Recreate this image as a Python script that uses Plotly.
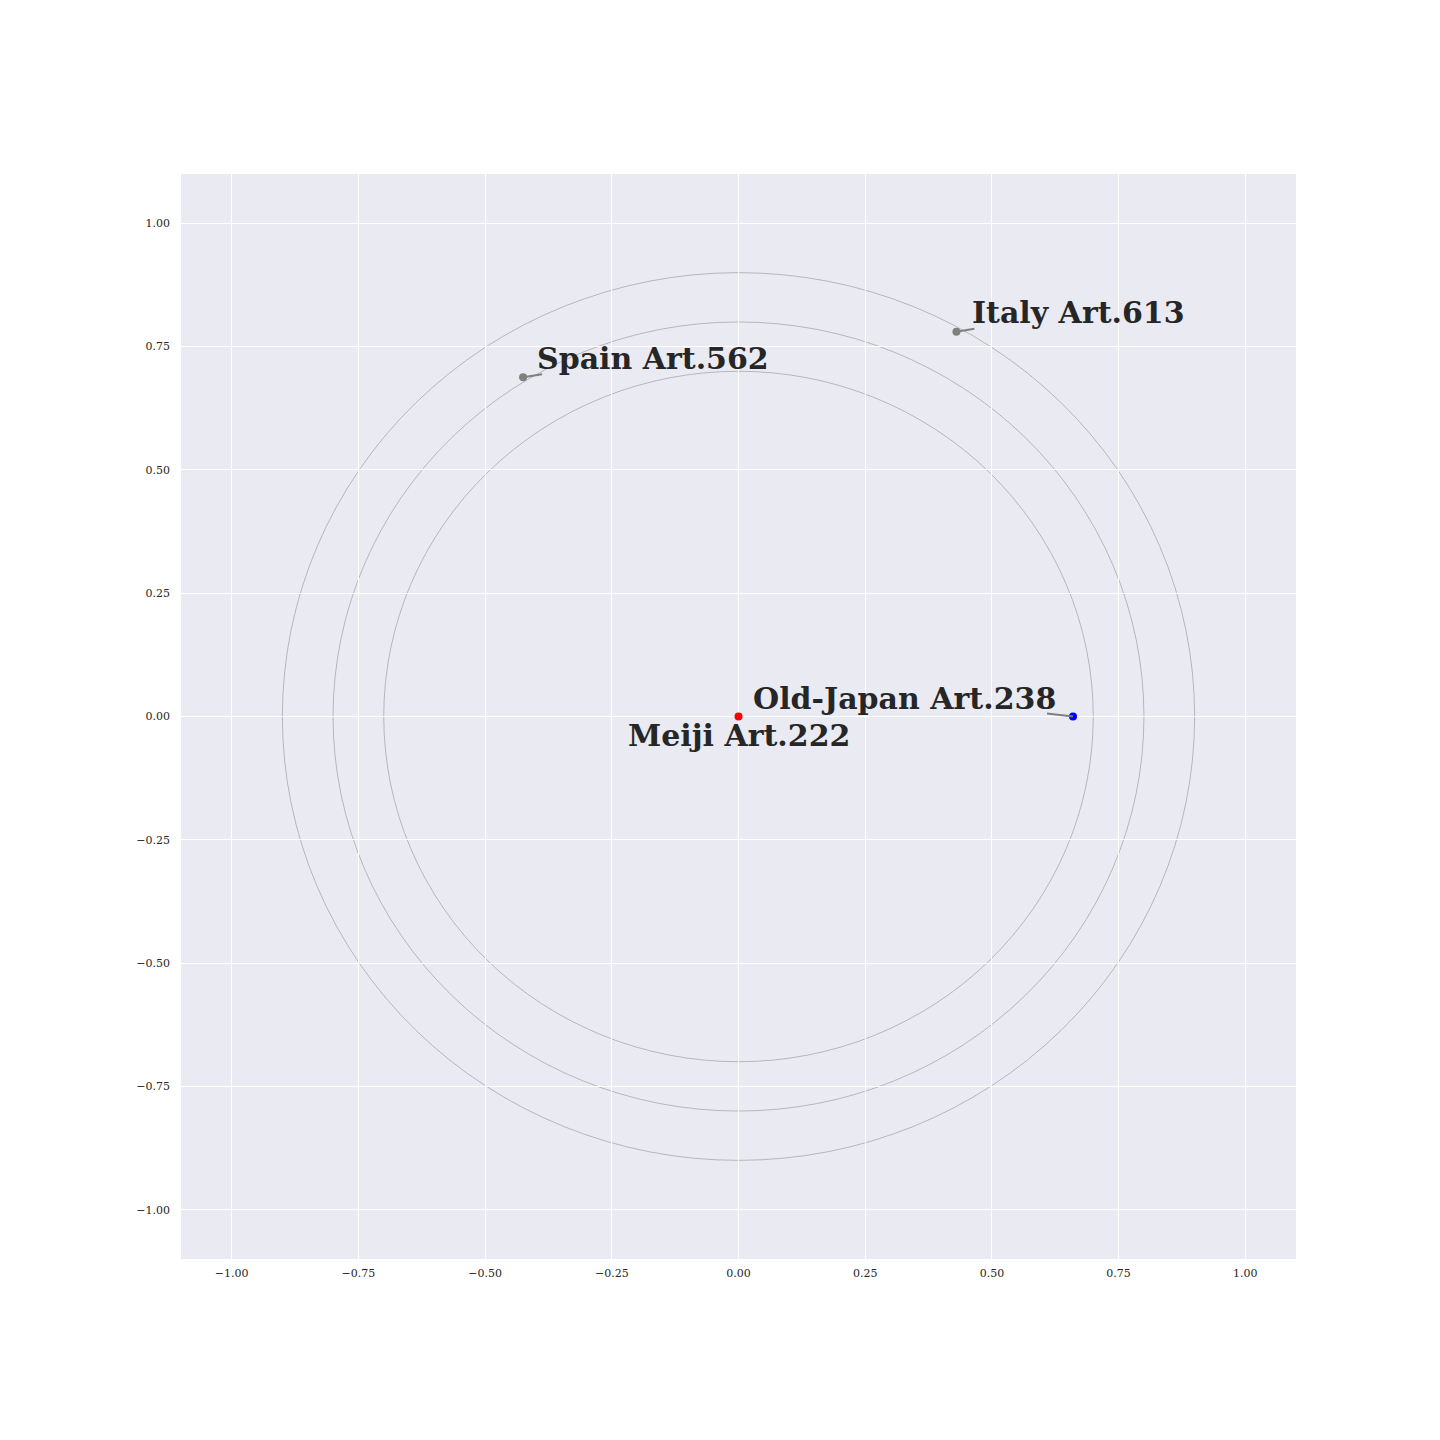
import plotly.graph_objects as go

names = ["Meiji Art.222", "Old-Japan Art.238", "Spain Art.562", "Italy Art.613"]
xs = [0.0, 0.66, -0.425, 0.43]
ys = [0.0, 0.0, 0.688, 0.78]
colors = ["red", "blue", "gray", "gray"]
radii = [0.7, 0.8, 0.9]
tick_vals = [-1.0, -0.75, -0.5, -0.25, 0.0, 0.25, 0.5, 0.75, 1.0]
tick_text = ["\u22121.00", "\u22120.75", "\u22120.50", "\u22120.25", "0.00", "0.25", "0.50", "0.75", "1.00"]
# label offsets in pixels (text center relative to point)
label_dx = [0, -169, 130, 122]
label_dy = [-19, 18, 19, 19]
# connector segment end offsets in pixels (None = no connector)
conn_dx = [None, -26, 19, 18]
conn_dy = [None, 3, 3, 3]

fig = go.Figure()

for r in radii:
    fig.add_shape(type="circle", xref="x", yref="y", x0=-r, y0=-r, x1=r, y1=r,
                  line=dict(color="gray", width=0.5), layer="below")

for x, y, cdx, cdy in zip(xs, ys, conn_dx, conn_dy):
    if cdx is None:
        continue
    fig.add_shape(type="line", xref="x", yref="y", xsizemode="pixel", ysizemode="pixel",
                  xanchor=x, yanchor=y, x0=0, y0=0, x1=cdx, y1=cdy,
                  line=dict(color="gray", width=2), layer="above")

fig.add_trace(go.Scatter(x=xs, y=ys, mode="markers",
                         marker=dict(color=colors, size=8, line=dict(width=0)),
                         showlegend=False, hoverinfo="skip"))

for n, x, y, dx, dy in zip(names, xs, ys, label_dx, label_dy):
    fig.add_annotation(x=x, y=y, xref="x", yref="y", text="<b>" + n + "</b>",
                       showarrow=False, xshift=dx, yshift=dy,
                       xanchor="center", yanchor="middle",
                       font=dict(family="DejaVu Serif", size=30, color="#262626"))

axis_common = dict(range=[-1.1, 1.1], tickvals=tick_vals, ticktext=tick_text,
                   showgrid=True, gridcolor="white", gridwidth=1, zeroline=False,
                   showline=False, ticks="", tickfont=dict(family="DejaVu Serif", size=11, color="#262626"))

fig.update_layout(
    width=1440, height=1440,
    margin=dict(l=173, r=152, t=166, b=189),
    paper_bgcolor="white", plot_bgcolor="#EAEAF2",
    xaxis=dict(**axis_common, ticklabelstandoff=6),
    yaxis=dict(**axis_common, ticklabelstandoff=10),
    font=dict(family="DejaVu Serif"),
)

fig.write_html("out.html")
